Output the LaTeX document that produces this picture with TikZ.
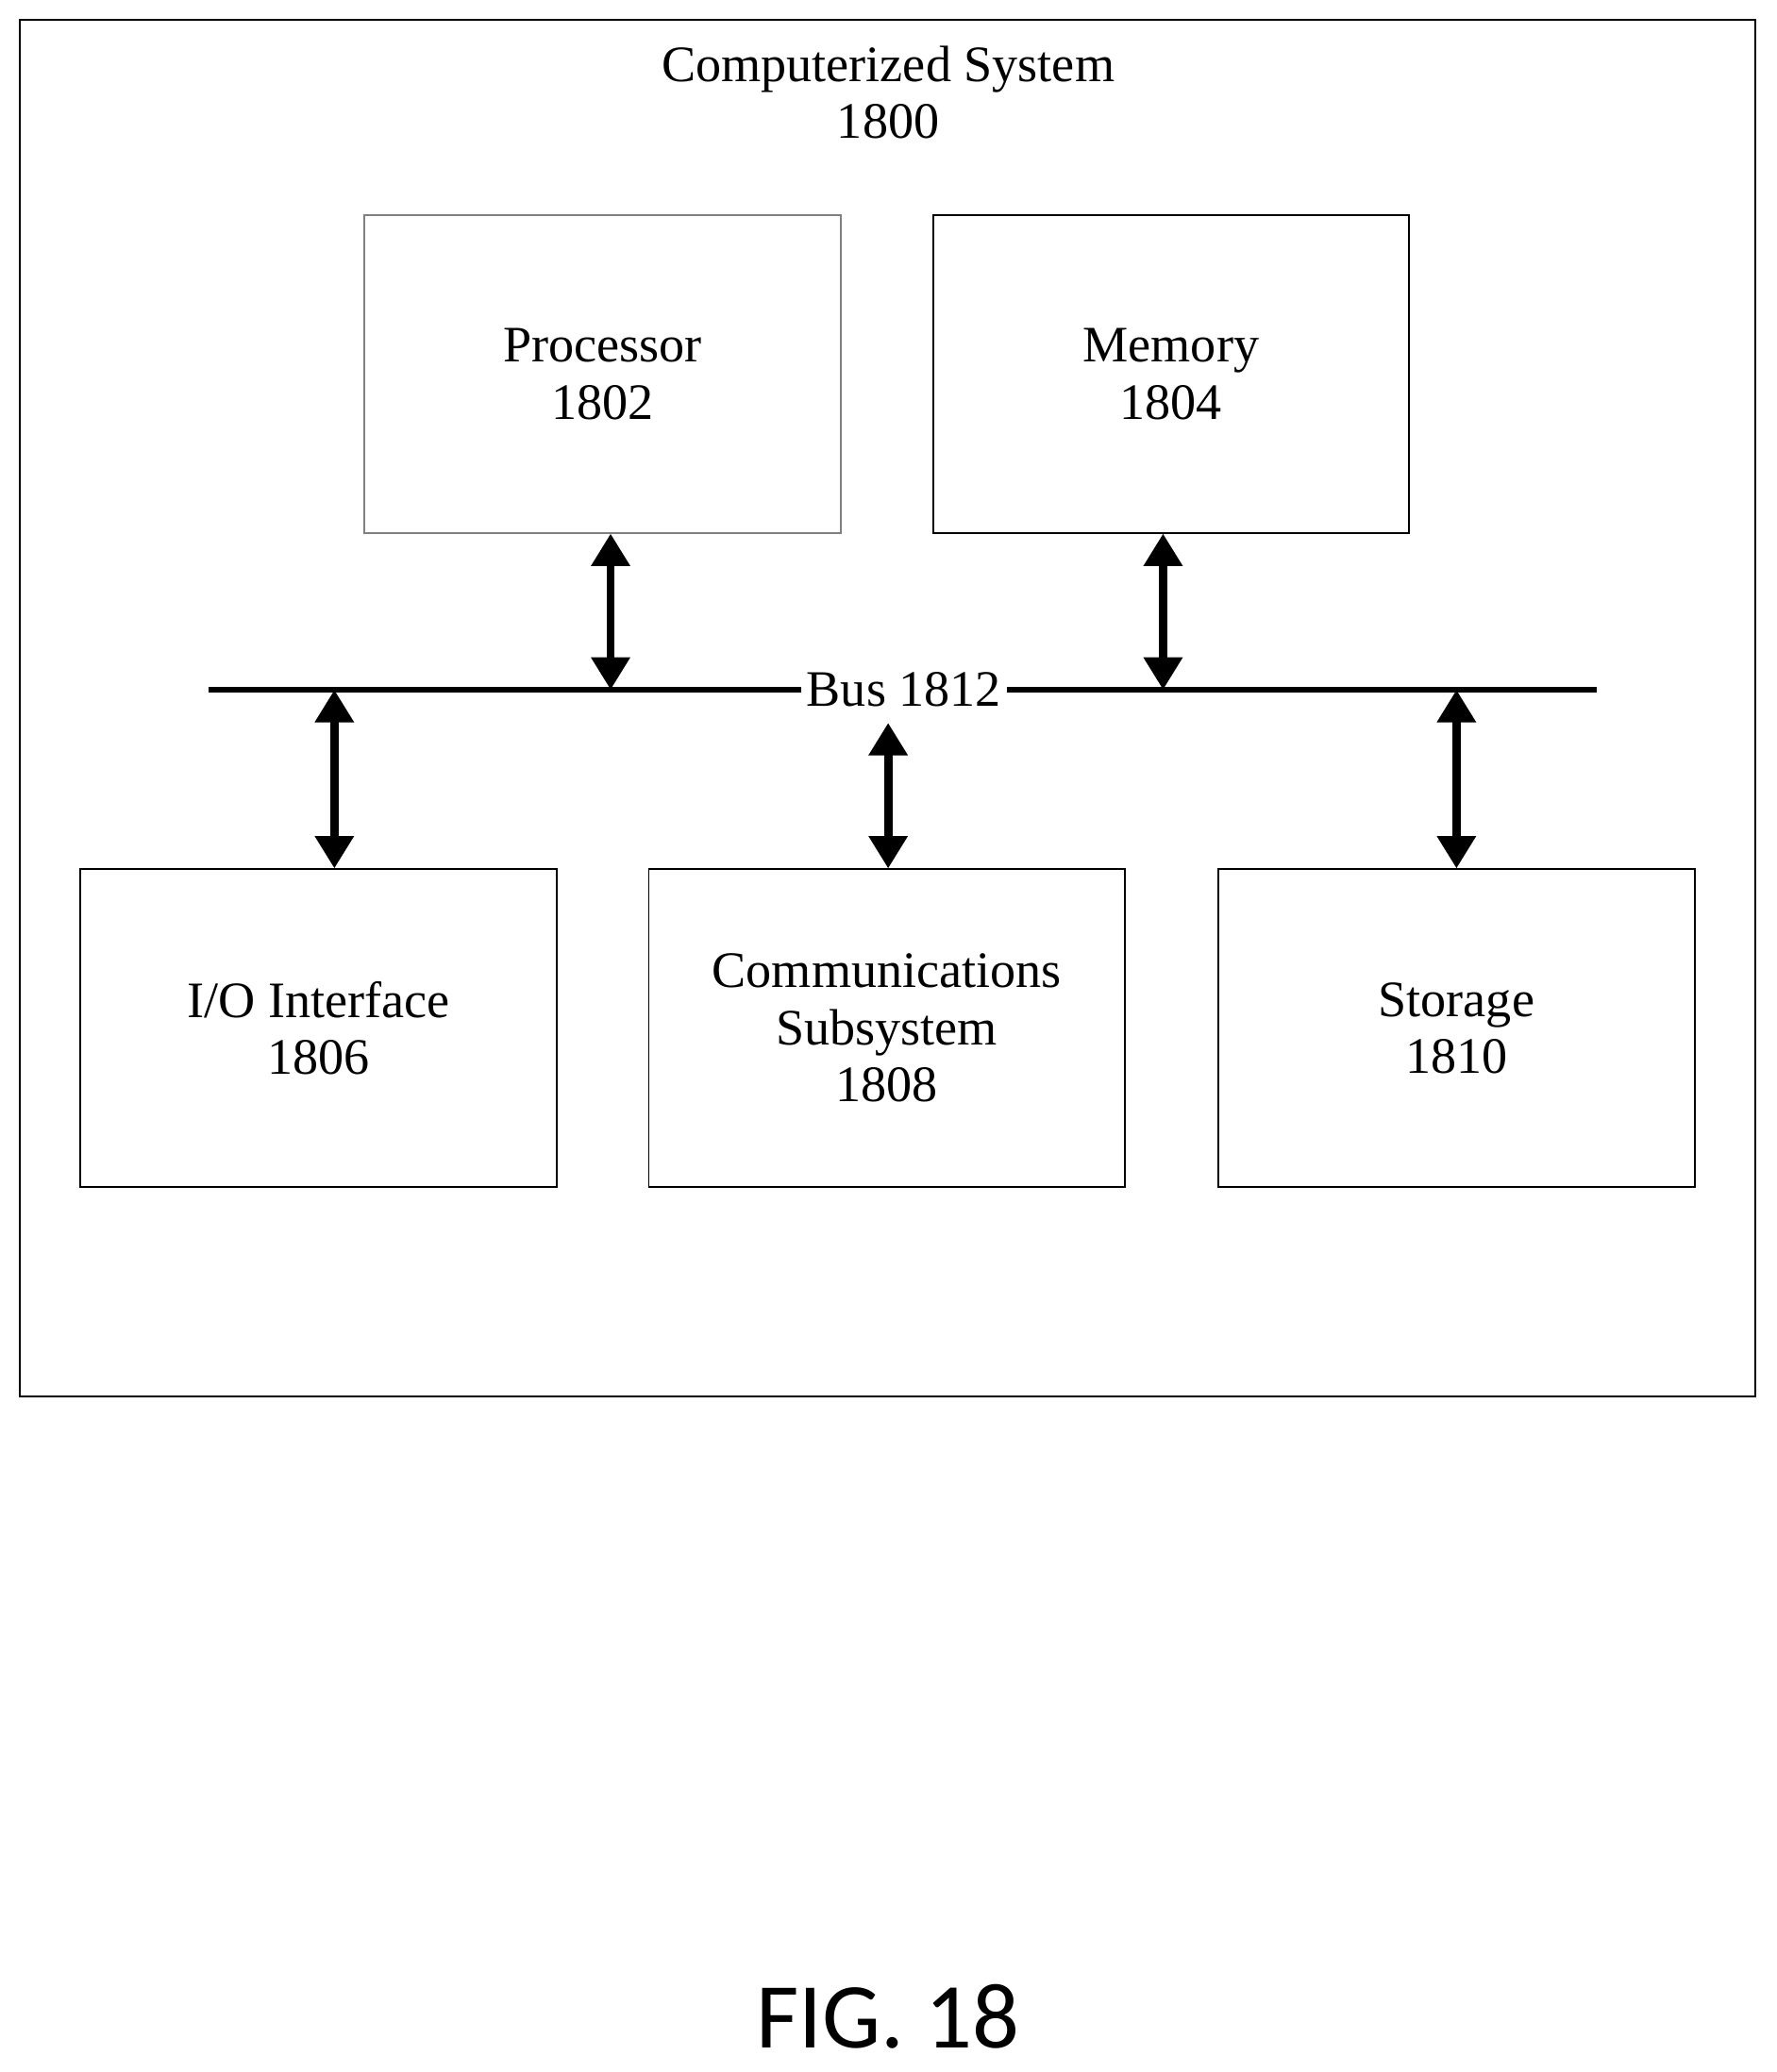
\documentclass[tikz,border=0pt]{standalone}
\usepackage{fontspec}
\setmainfont{Liberation Serif}
\newfontfamily\figfont{Carlito}
\usetikzlibrary{arrows.meta}
\begin{document}
\begin{tikzpicture}[
	x=0.01cm, y=-0.01cm,
	>={Triangle[length=7pt,width=8pt]},
	mibloque/.style ={draw, thin, minimum width=3.6cm, minimum height=2.4cm, align=center, font=\fontsize{11}{12.3}\selectfont},
	miflecha/.style ={<->, line width=1.8pt}]

	\useasboundingbox (0,0) rectangle (1344,1568);

	% outer frame
	\draw[thin] (15,15) rectangle (1328,1057);
	\node[align=center, font=\fontsize{11}{12.3}\selectfont] (sys) at (672,70) {Computerized System\\1800};

	\node[mibloque, draw=gray] (proc) at (456,283) {Processor\\1802};
	\node[mibloque] (mem) at (886,283) {Memory\\1804};
	\node[mibloque] (io) at (241,778) {I/O Interface\\1806};
	\node[mibloque] (comm) at (671,778) {Communications\\Subsystem\\1808};
	\node[mibloque] (stor) at (1102,778) {Storage\\1810};

	% bus
	\coordinate (BL) at (158,522);
	\coordinate (BR) at (1208,522);
	\node[inner sep=1pt, font=\fontsize{11}{12.3}\selectfont] (bus) at (684,522) {Bus 1812};
	\draw[line width=1.2pt] (BL) -- (bus.west);
	\draw[line width=1.2pt] (bus.east) -- (BR);

	\coordinate (B1) at (462,522);
	\coordinate (B2) at (880,522);
	\coordinate (B3) at (253,522);
	\coordinate (B4) at (672,547);
	\coordinate (B5) at (1102,522);

	\draw[miflecha] (proc.south -| B1) -- (B1);
	\draw[miflecha] (mem.south -| B2) -- (B2);
	\draw[miflecha] (B3) -- (io.north -| B3);
	\draw[miflecha] (B4) -- (comm.north -| B4);
	\draw[miflecha] (B5) -- (stor.north -| B5);

	\node[font=\figfont\fontsize{20}{24}\selectfont] (fig) at (672,1526) {FIG. 18};

\end{tikzpicture}
\end{document}
